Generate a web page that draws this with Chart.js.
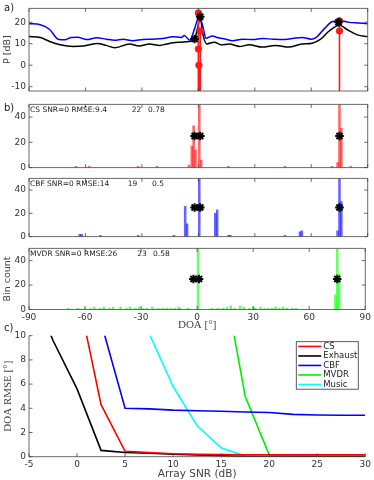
<!DOCTYPE html>
<html>
<head>
<meta charset="utf-8">
<script src="https://cdn.jsdelivr.net/npm/chart.js@4.4.1/dist/chart.umd.min.js"></script>
<style>
  html, body { margin: 0; padding: 0; background: #fff; }
  #wrap { position: relative; width: 374px; height: 480px; overflow: hidden; }
  #wrap canvas { position: absolute; left: 0; }
  .tag { position: absolute; left: 4px; font: 10px "DejaVu Sans", sans-serif; color: #222; }
</style>
</head>
<body>
<div id="wrap">
  <canvas id="pa" width="374" height="100" style="top:0"></canvas>
  <canvas id="pcs" width="374" height="80" style="top:96px"></canvas>
  <canvas id="pcbf" width="374" height="75" style="top:170px"></canvas>
  <canvas id="pmvdr" width="374" height="92" style="top:240px"></canvas>
  <canvas id="pc" width="374" height="160" style="top:320px"></canvas>
  <div class="tag" style="top:2px">a)</div>
  <div class="tag" style="top:102px">b)</div>
  <div class="tag" style="top:322px">c)</div>
</div>
<script>
// ---- a) beam power spectra
const blueDeg = [-90,-84,-79,-74.5,-71,-67.5,-64,-59.5,-54,-49,-44.5,-40,-35,-29.5,-24,-19,-13.5,-9,-7.5,-4.5,-2,0.5,2.5,4,7.5,10,14.5,18,23.5,29,34,39.5,44.5,50,55,60,62.5,67,71,75.5,80,85,90];
const bluePow = [19.3,18.8,16.6,12.1,11.8,12.9,13,11.9,12.7,12.1,11.6,12.1,11.4,11.9,12.1,12.4,13.2,12.9,13.8,11.6,17,22.8,17.5,12.5,13.6,12.9,12.1,11.4,12.1,11.9,12.4,12.1,11.9,12.4,12.9,12.1,12.8,17,20.2,20.7,19.9,19.6,19.3];
const blackDeg = [-90,-84,-79,-73.5,-66.5,-61,-53.5,-49,-44.5,-36.5,-31.5,-26,-20.5,-17,-13.5,-9,-5,-2,-0.5,1,2.5,4.5,8.5,12,16.5,22,27,34,41,48,55,60.5,65,69.5,75,79,84.5,90];
const blackPow = [13.3,12.9,11,9.5,8.7,8.9,10.1,9.2,8.1,9.9,8.9,9.8,9.2,9.8,10.4,10.7,11,12.2,17,21.8,14,9.9,10.7,9.5,9.8,8.7,9.5,8.4,9.2,8.4,9.8,10.2,12.1,15.9,18.6,16.6,14.1,13.3];
const stemDeg = [0, 1, 0, 0.3, 75, 75];
const stemPow = [24.3, 15.9, 7.5, 0, 20.6, 15.9];
const starDeg = [-2, 1, 74.5];
const starPow = [12.2, 22.5, 20];

// ---- b) histograms of estimated DOA
const trueDoa = [-2, 1, 75];
const csBins = [-65,-58,-32,-22,-5,-3.5,-2.5,-1.5,0.5,1.5,16,46,71,74,75,76,81];
const csCount = [1,1,1,1,2,17,33,14,60,6,1,1,1,4,60,31,1];
const cbfBins = [-63,-62,-52,-32,-13,-7,-6,0.5,9,10,16,17,46,54,55,74,75,76];
const cbfCount = [2,2,1,1,1,26,11,60,20,23,1,1,1,4,5,5,60,30];
const mvdrBins = [-69,-64,-60,-57,-55,-52,-50,-47,-45,-41,-38,-36,-33,-31,-29,-27,-24,-21,-18,-16,-14,-12,-10,-9,-5,0.5,8,11,14,16,18,20,23,25,28,30,31,34,36,38,40,42,44,46,48,51,53,74,75,76];
const mvdrCount = [1,1,1,1,2,1,2,1,2,2,1,2,1,2,1,1,2,1,1,1,1,1,2,1,1,60,1,1,1,2,3,1,3,2,1,2,1,2,1,1,1,2,1,2,1,1,1,12,60,29];
const methods = ['CS', 'CBF', 'MVDR'];
const rmse = ['9.4', '14', '26'];
const col2 = ['22', '19', '23'];
const col3 = ['0.78', '0.5', '0.58'];

// ---- c) RMSE vs array SNR
const snr = [-5,-2.5,0,2.5,5,7.5,10,12.5,15,17.5,20,22.5,25,27.5,30];
const rmseCS = [25,19,13.8,4.3,0.45,0.35,0.25,0.2,0.18,0.15,0.15,0.15,0.15,0.15,0.15];
const rmseExhaust = [14.6,9.6,5.6,0.52,0.35,0.28,0.2,0.15,0.08,0.02,0,0,0,0,0];
const rmseCBF = [25,21,17,11.1,4.0,3.95,3.85,3.8,3.75,3.7,3.65,3.5,3.45,3.42,3.42];
const rmseMVDR = [30,30,28,26,24,21,19,17.5,15.9,5,0.15,0.08,0.05,0.05,0.05];
const rmseMusic = [22,18,15,13,12,10.2,5.8,2.56,0.74,0.05,0.02,0.02,0.02,0.02,0.02];

Chart.defaults.font.family = '"DejaVu Sans", sans-serif';
Chart.defaults.font.size = 9;
Chart.defaults.color = '#333';
Chart.defaults.animation = false;
Chart.defaults.responsive = false;
Chart.defaults.plugins.legend.display = false;
Chart.defaults.plugins.tooltip.enabled = false;

const pts = (xs, ys) => xs.map((x, i) => ({x: x, y: ys[i]}));
const noGrid = {display: false, drawTicks: false, offset: false};

// matlab style box with inward ticks
const matlabAxes = {
  id: 'matlabAxes',
  afterDatasetsDraw(chart, args, opts) {
    const {ctx, chartArea: a, scales} = chart;
    const len = 3.5;
    ctx.save();
    ctx.strokeStyle = '#444';
    ctx.lineWidth = 0.8;
    ctx.beginPath();
    if (opts.box) {
      ctx.rect(a.left, a.top, a.right - a.left, a.bottom - a.top);
    } else {
      ctx.moveTo(a.left, a.top);
      ctx.lineTo(a.left, a.bottom);
      ctx.lineTo(a.right, a.bottom);
    }
    scales.x.ticks.forEach(t => {
      const px = scales.x.getPixelForValue(t.value);
      ctx.moveTo(px, a.bottom); ctx.lineTo(px, a.bottom - len);
      if (opts.box) { ctx.moveTo(px, a.top); ctx.lineTo(px, a.top + len); }
    });
    scales.y.ticks.forEach(t => {
      const py = scales.y.getPixelForValue(t.value);
      ctx.moveTo(a.left, py); ctx.lineTo(a.left + len, py);
      if (opts.box) { ctx.moveTo(a.right, py); ctx.lineTo(a.right - len, py); }
    });
    ctx.stroke();
    ctx.restore();
  }
};

// vertical stems below the red dots
const stemLines = {
  id: 'stemLines',
  beforeDatasetDraw(chart, args, opts) {
    if (args.index !== opts.index) return;
    const {ctx, chartArea: a} = chart;
    ctx.save();
    ctx.strokeStyle = opts.color;
    ctx.lineWidth = 1.6;
    ctx.beginPath();
    args.meta.data.forEach(p => { ctx.moveTo(p.x, a.bottom); ctx.lineTo(p.x, p.y); });
    ctx.stroke();
    ctx.restore();
  }
};

// text line at the top of each histogram
const histNote = {
  id: 'histNote',
  afterDraw(chart, args, opts) {
    const {ctx, chartArea: a} = chart;
    const i = opts.i;
    ctx.save();
    ctx.font = '7.5px "DejaVu Sans", sans-serif';
    ctx.fillStyle = '#222';
    ctx.textBaseline = 'top';
    ctx.fillText(methods[i] + ' SNR=0 RMSE:' + rmse[i], a.left + 1, a.top + 2);
    ctx.textAlign = 'center';
    ctx.fillText(col2[i], opts.x2, a.top + 2);
    ctx.textAlign = 'left';
    ctx.fillText(col3[i], opts.x3, a.top + 2);
    ctx.restore();
  }
};

// boxed legend inside panel c
const boxLegend = {
  id: 'boxLegend',
  afterDraw(chart) {
    const {ctx, chartArea: a} = chart;
    const items = chart.data.datasets;
    const rowH = 9.5, w = 62;
    const x0 = a.right - 69, y0 = a.top + 6, h = rowH * items.length;
    ctx.save();
    ctx.fillStyle = '#fff';
    ctx.fillRect(x0, y0, w, h);
    ctx.strokeStyle = '#333';
    ctx.lineWidth = 0.8;
    ctx.strokeRect(x0, y0, w, h);
    ctx.font = '8.5px "DejaVu Sans", sans-serif';
    ctx.textBaseline = 'middle';
    items.forEach((d, i) => {
      const y = y0 + rowH * (i + 0.5);
      ctx.strokeStyle = d.borderColor;
      ctx.lineWidth = 1.6;
      ctx.beginPath(); ctx.moveTo(x0 + 2, y); ctx.lineTo(x0 + 25, y); ctx.stroke();
      ctx.fillStyle = '#222';
      ctx.fillText(d.label, x0 + 27, y);
    });
    ctx.restore();
  }
};

function xScale(h, showTicks, title) {
  return {
    type: 'linear', min: -90, max: 90, offset: false,
    grid: noGrid, border: {display: false},
    ticks: {display: showTicks, stepSize: 30, padding: 3, maxRotation: 0},
    title: title ? {display: true, text: title, color: '#444', padding: {top: 0, bottom: 0},
      font: {family: '"Liberation Serif", serif', size: 11}} : {display: false},
    afterFit: s => { s.height = h; }
  };
}
function yScale(min, max, step, title, serif) {
  return {
    min: min, max: max,
    grid: noGrid, border: {display: false},
    ticks: {stepSize: step, includeBounds: false, padding: 3},
    title: title ? {display: true, text: title, color: '#444', padding: {top: 2, bottom: 0},
      font: serif ? {family: '"Liberation Serif", serif', size: 11} : {size: 9.5}} : {display: false},
    afterFit: s => { s.width = 29; }
  };
}

// ---- a)
new Chart(document.getElementById('pa'), {
  type: 'line',
  data: {
    datasets: [
      {data: pts(starDeg, starPow), showLine: false, pointStyle: 'star', pointRadius: 4.3,
       borderColor: '#000', borderWidth: 2},
      {data: pts(stemDeg, stemPow), showLine: false, pointRadius: 3.2,
       backgroundColor: '#ff1a1a', borderColor: '#ff1a1a', borderWidth: 1},
      {data: pts(blueDeg, bluePow), borderColor: '#0000ff', borderWidth: 1.5, pointRadius: 0,
       cubicInterpolationMode: 'monotone'},
      {data: pts(blackDeg, blackPow), borderColor: '#000', borderWidth: 1.5, pointRadius: 0,
       cubicInterpolationMode: 'monotone'}
    ]
  },
  options: {
    layout: {padding: {top: 5, right: 5, left: 0, bottom: 0}},
    scales: {x: xScale(9, false), y: yScale(-12, 26.4, 10, 'P [dB]')},
    plugins: {matlabAxes: {box: true}, stemLines: {index: 1, color: '#ff1a1a'}}
  },
  plugins: [matlabAxes, stemLines]
});

// ---- b)
function histChart(id, i, bins, counts, color, padTop, xh, showX, notePos) {
  new Chart(document.getElementById(id), {
    type: 'bar',
    data: {
      datasets: [
        {type: 'line', data: pts(trueDoa, trueDoa.map(() => 25)), showLine: false,
         pointStyle: 'star', pointRadius: 4.3, borderColor: '#000', borderWidth: 2},
        {data: pts(bins, counts), backgroundColor: color, borderWidth: 0,
         barThickness: 1.9, clip: 0}
      ]
    },
    options: {
      layout: {padding: {top: padTop, right: 5, left: 0, bottom: 0}},
      scales: {
        x: xScale(xh, showX, showX ? 'DOA [°]' : null),
        y: yScale(0, 50, 20, i === 2 ? 'Bin count' : null)
      },
      plugins: {matlabAxes: {box: true}, histNote: {i: i, x2: notePos[0], x3: notePos[1]}}
    },
    plugins: [matlabAxes, histNote]
  });
}
histChart('pcs', 0, csBins, csCount, 'rgba(255,0,0,0.6)', 8, 8, false, [136.5, 148]);
histChart('pcbf', 1, cbfBins, cbfCount, 'rgba(0,0,255,0.6)', 7.5, 6, false, [132.5, 152]);
histChart('pmvdr', 2, mvdrBins, mvdrCount, 'rgba(0,255,0,0.6)', 7, 22.5, true, [142, 153]);

// ---- c)
const lineSet = (label, ys, color) => ({label: label, data: pts(snr, ys), borderColor: color,
  backgroundColor: color, borderWidth: 1.6, pointRadius: 0, tension: 0});
new Chart(document.getElementById('pc'), {
  type: 'line',
  data: {
    datasets: [
      lineSet('CS', rmseCS, '#ff0000'),
      lineSet('Exhaust', rmseExhaust, '#000000'),
      lineSet('CBF', rmseCBF, '#0000ff'),
      lineSet('MVDR', rmseMVDR, '#00ee00'),
      lineSet('Music', rmseMusic, '#00ffff')
    ]
  },
  options: {
    layout: {padding: {top: 15.7, right: 5, left: 0, bottom: 0}},
    scales: {
      x: {type: 'linear', min: -5, max: 30, grid: noGrid, border: {display: false},
          ticks: {stepSize: 5, padding: 3, maxRotation: 0},
          title: {display: true, text: 'Array SNR (dB)', color: '#444', padding: {top: 0, bottom: -1},
                  font: {size: 10.5}},
          afterFit: s => { s.height = 23.3; }},
      y: yScale(0, 10, 2, 'DOA RMSE [°]', true)
    },
    plugins: {matlabAxes: {box: false}}
  },
  plugins: [matlabAxes, boxLegend]
});
</script>
</body>
</html>
